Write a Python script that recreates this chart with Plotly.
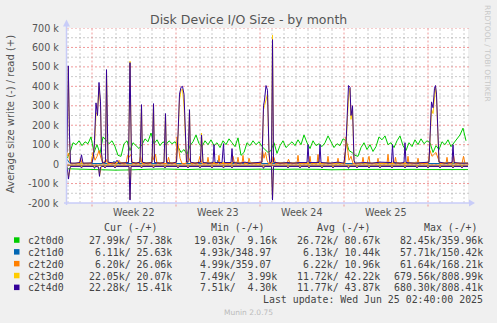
import plotly.graph_objects as go

# ---------------- data ----------------
# time axis: hours since the start of the graph window (2 h per pixel in the original)
T_END = 802
week_starts = [50, 218, 386, 554, 722]          # Monday boundaries (hours)
week_labels = ["Week 22", "Week 23", "Week 24", "Week 25"]

series_names = ["c2t0d0", "c2t1d0", "c2t2d0", "c2t3d0", "c2t4d0"]
series_colors = ["#00CC00", "#0066B3", "#FF8000", "#FFCC00", "#330099"]

# c2t0d0 read (k), sampled every 6 h
t0d0_read = [30, 60, 110, 100, 120, 95, 115, 105, 140, 60,
             100, 55, 140, 125, 105, 120, 90, 45, 40, 105,
             120, 70, 110, 95, 80, 100, 130, 115, 160, 105,
             125, 95, 115, 100, 120, 105, 115, 90, 60, 75,
             50, 95, 115, 150, 105, 90, 120, 100, 125, 95,
             110, 85, 120, 100, 130, 110, 90, 135, 45, 60,
             110, 95, 120, 100, 115, 90, 75, 60, 70, 110,
             55, 95, 120, 85, 100, 115, 95, 125, 100, 150,
             110, 80, 120, 95, 105, 90, 110, 145, 115, 85,
             105, 95, 130, 120, 70, 60, 45, 40, 85, 110,
             75, 100, 65, 90, 140, 125, 145, 100, 110, 85,
             120, 145, 95, 70, 110, 90, 125, 100, 130, 105,
             120, 110, 60, 95, 75, 115, 100, 125, 90, 110,
             130, 150, 185, 120]
# c2t0d0 write (k), sampled every 24 h
t0d0_write = [-24, -26, -27, -28, -31, -30, -27, -26, -25, -27, -28, -26,
              -27, -25, -29, -27, -26, -28, -27, -26, -25, -27, -29, -28,
              -27, -26, -27, -28, -26, -27, -28, -27, -26, -28, -28]

# (hour, k) samples
t1d0_read = [(0, 25), (3, 10), (6, 3), (92, 3), (94, 15), (96, 3), (300, 3), (302, 20),
             (304, 3), (500, 3), (502, 18), (504, 3), (802, 3)]
t1d0_write = [(0, -6), (802, -6)]

t2d0_read = [(0, 40), (3, 55), (6, 10), (10, 3), (24, 3), (27, 30), (30, 3), (48, 3), (52, 60),
             (56, 20), (60, 40), (64, 70), (68, 30), (72, 3), (78, 25), (81, 3), (100, 3), (104, 20),
             (108, 3), (118, 3), (121, 45), (124, 35), (128, 50), (131, 3), (144, 3), (147, 40),
             (150, 3), (168, 3), (171, 45), (174, 20), (177, 50), (180, 3), (200, 3), (203, 35),
             (206, 3), (218, 3), (220, 140), (223, 80), (226, 30), (230, 3), (238, 3), (241, 50),
             (244, 30), (248, 3), (262, 3), (266, 40), (270, 3), (280, 3), (282, 35), (284, 3),
             (302, 3), (304, 45), (306, 3), (320, 3), (330, 3), (332, 40), (335, 3), (340, 3),
             (342, 35), (344, 3), (350, 3), (352, 45), (354, 3), (362, 3), (364, 30), (367, 3),
             (388, 3), (391, 70), (394, 30), (397, 60), (400, 20), (403, 3), (410, 3), (412, 40),
             (414, 35), (417, 3), (440, 3), (443, 25), (446, 3), (460, 3), (462, 45), (464, 3),
             (484, 3), (486, 40), (488, 3), (500, 3), (502, 50), (504, 3), (520, 3), (522, 40),
             (524, 3), (540, 3), (542, 30), (544, 3), (556, 3), (558, 140), (561, 60), (564, 20),
             (568, 40), (572, 3), (590, 3), (592, 35), (594, 3), (600, 3), (604, 40), (606, 3),
             (620, 3), (622, 30), (624, 3), (640, 3), (642, 50), (644, 3), (655, 3), (657, 35),
             (659, 3), (680, 3), (682, 40), (684, 3), (700, 3), (702, 30), (704, 3), (722, 3),
             (726, 70), (730, 40), (734, 50), (738, 60), (742, 30), (746, 3), (758, 3), (760, 35),
             (762, 3), (770, 3), (773, 45), (776, 3), (790, 3), (793, 40), (796, 3), (802, 5)]
t2d0_write = [(0, -5), (802, -5)]

t3d0_read = [(0, 50), (2.6, 500), (5, 120), (7, 4), (50, 5), (55, 100), (58, 255), (61, 270),
             (64, 400), (67, 300), (69, 50), (71, 4), (77, 8), (79, 480), (82, 8), (123, 8),
             (126, 529), (129, 8), (146, 8), (149, 300), (151, 8), (170, 8), (173, 305), (175, 8),
             (194, 8), (197, 255), (199, 8), (219, 8), (222, 140), (225, 330), (228, 380),
             (231, 385), (234, 300), (236, 180), (239, 8), (242, 8), (245, 275), (247, 8),
             (267, 8), (269, 160), (272, 8), (390, 8), (393, 280), (395, 300), (398, 340),
             (401, 360), (404, 50), (406, 5), (409, 8), (411, 663), (413, 8), (554, 5), (558, 90),
             (561, 300), (563, 340), (566, 390), (568, 230), (571, 280), (574, 15), (576, 5),
             (724, 8), (727, 180), (729, 280), (732, 260), (735, 370), (737, 395), (739, 340),
             (742, 140), (744, 8), (802, 5)]
t3d0_write = [(0, -12), (3, -70), (7, -12), (63, -12), (65, -58), (69, -12), (124, -12),
              (126, -180), (128, -12), (409, -12), (411, -180), (413, -12), (802, -12)]

t4d0_read = [(0, 60), (2.6, 505), (5, 150), (7, 5), (16, 5), (26, 8), (29, 48), (32, 5), (50, 6),
             (53, 40), (55, 120), (58, 315), (61, 250), (64, 420), (67, 320), (69, 60), (71, 5),
             (77, 10), (79, 486), (82, 10), (96, 5), (100, 20), (104, 5), (123, 8), (126, 522),
             (129, 10), (138, 5), (146, 10), (149, 306), (151, 10), (158, 5), (170, 8), (173, 311),
             (175, 8), (186, 5), (194, 8), (197, 260), (199, 8), (210, 5), (219, 10), (222, 150),
             (225, 360), (228, 395), (231, 400), (234, 360), (236, 200), (239, 10), (242, 10),
             (245, 280), (247, 10), (256, 5), (267, 10), (269, 150), (272, 8), (286, 5), (292, 8),
             (294, 100), (296, 8), (310, 8), (313, 105), (315, 8), (328, 8), (330, 80), (332, 8),
             (346, 5), (356, 10), (366, 5), (380, 8), (390, 10), (393, 300), (395, 330), (398, 404),
             (401, 380), (404, 60), (406, 5), (409, 10), (411, 640), (413, 10), (426, 5), (442, 8),
             (452, 5), (466, 8), (480, 8), (482, 100), (484, 8), (504, 8), (506, 100), (508, 8),
             (526, 5), (542, 10), (554, 5), (558, 100), (561, 330), (563, 404), (566, 395),
             (568, 250), (571, 300), (574, 20), (576, 5), (596, 8), (610, 5), (626, 10), (649, 8),
             (651, 100), (653, 8), (666, 5), (674, 8), (676, 110), (678, 8), (696, 5), (712, 8),
             (724, 10), (727, 200), (729, 320), (732, 290), (735, 390), (737, 404), (739, 360),
             (742, 150), (744, 10), (756, 5), (770, 8), (772, 100), (774, 8), (786, 5), (802, 5)]
t4d0_write = [(0, -12), (1, -40), (3, -77), (5, -30), (7, -12), (27, -12), (29, -20), (31, -12),
              (53, -12), (55, -22), (57, -12), (63, -15), (65, -63), (67, -15), (69, -12),
              (74, -12), (76, -20), (78, -12), (94, -12), (96, -20), (98, -12), (124, -12),
              (126, -185), (128, -12), (147, -12), (149, -20), (151, -12), (171, -12), (173, -20),
              (175, -12), (194, -12), (196, -20), (198, -12), (220, -12), (222, -20), (224, -12),
              (240, -12), (242, -20), (244, -12), (264, -12), (266, -20), (268, -12), (288, -12),
              (290, -20), (292, -12), (311, -12), (313, -20), (315, -12), (328, -12), (330, -20),
              (332, -12), (391, -12), (393, -22), (395, -12), (409, -12), (411, -185), (413, -12),
              (440, -12), (442, -20), (444, -12), (464, -12), (466, -20), (468, -12), (482, -12),
              (484, -20), (486, -12), (508, -12), (510, -20), (512, -12), (530, -12), (532, -20),
              (534, -12), (561, -12), (563, -22), (565, -12), (578, -12), (580, -20), (582, -12),
              (602, -12), (604, -20), (606, -12), (624, -12), (626, -20), (628, -12), (648, -12),
              (650, -20), (652, -12), (674, -12), (676, -20), (678, -12), (698, -12), (700, -20),
              (702, -12), (720, -12), (722, -20), (724, -12), (744, -12), (746, -20), (748, -12),
              (770, -12), (772, -20), (774, -12), (788, -12), (790, -20), (792, -12), (802, -12)]

y_ticks = [-200, -100, 0, 100, 200, 300, 400, 500, 600, 700]   # in k
y_tick_text = ["-200 k", "-100 k", "0", "100 k", "200 k", "300 k", "400 k", "500 k", "600 k", "700 k"]

legend_cur = ["27.99k/ 57.38k", " 6.11k/ 25.63k", " 6.20k/ 26.06k", "22.05k/ 20.07k", "22.28k/ 15.41k"]
legend_min = ["19.03k/  9.16k", " 4.93k/348.97 ", " 4.99k/359.07 ", " 7.49k/  3.99k", " 7.51k/  4.30k"]
legend_avg = ["26.72k/ 80.67k", " 6.13k/ 10.44k", " 6.22k/ 10.96k", "11.72k/ 42.22k", "11.77k/ 43.87k"]
legend_max = ["82.45k/359.96k", "57.71k/150.42k", "61.64k/168.21k", "679.56k/808.99k", "680.30k/808.41k"]

# ---------------- layout helpers ----------------
W, H = 497, 323
L, R, T, B = 67, 29, 28, 120
PW, PH = W - L - R, H - T - B


def px(x):
    return (x - L) / PW


def py(y):
    return (H - B - y) / PH


K = 1000.0

fig = go.Figure()


def add_line(ts, vs, color):
    fig.add_trace(go.Scatter(x=ts, y=[v * K for v in vs], mode="lines",
                             line=dict(color=color, width=1), hoverinfo="skip",
                             showlegend=False))


def add_pairs(pairs, color):
    add_line([p[0] for p in pairs], [p[1] for p in pairs], color)


add_line([24 * i for i in range(len(t0d0_write))], t0d0_write, series_colors[0])
add_line([6 * i for i in range(len(t0d0_read))], t0d0_read, series_colors[0])
add_pairs(t1d0_write, series_colors[1])
add_pairs(t1d0_read, series_colors[1])
add_pairs(t2d0_write, series_colors[2])
add_pairs(t2d0_read, series_colors[2])
add_pairs(t3d0_write, series_colors[3])
add_pairs(t3d0_read, series_colors[3])
add_pairs(t4d0_write, series_colors[4])
add_pairs(t4d0_read, series_colors[4])

shapes = []
MAJ = "rgba(235,120,120,0.75)"
MIN = "rgba(170,170,170,0.6)"
DASH = "2px,2px"
# horizontal grid
for v in range(-150, 701, 50):
    major = v % 100 == 0
    shapes.append(dict(type="line", xref="paper", yref="y", x0=0, x1=1.005, y0=v * K, y1=v * K,
                       line=dict(color=MAJ if major else MIN, width=1, dash=DASH), layer="below"))
# vertical grid: daily minor, weekly major
for h in range(week_starts[0] % 24, T_END, 24):
    if h in week_starts:
        continue
    shapes.append(dict(type="line", xref="x", yref="paper", x0=h, x1=h, y0=0, y1=1,
                       line=dict(color=MIN, width=1, dash=DASH), layer="below"))
for h in week_starts:
    shapes.append(dict(type="line", xref="x", yref="paper", x0=h, x1=h, y0=-0.02, y1=1,
                       line=dict(color=MAJ, width=1, dash=DASH), layer="below"))

AX = "#C8CCF8"
shapes.append(dict(type="line", xref="paper", yref="paper", x0=px(66.5), x1=px(66.5),
                   y0=py(205), y1=py(24), line=dict(color=AX, width=1.5)))
shapes.append(dict(type="path", xref="paper", yref="paper",
                   path=f"M {px(66.5)},{py(19.5)} L {px(63)},{py(26.5)} L {px(70)},{py(26.5)} Z",
                   fillcolor=AX, line=dict(width=0)))
shapes.append(dict(type="line", xref="paper", yref="paper", x0=px(64), x1=px(470),
                   y0=py(203), y1=py(203), line=dict(color=AX, width=1.5)))
shapes.append(dict(type="path", xref="paper", yref="paper",
                   path=f"M {px(475)},{py(203)} L {px(469)},{py(199.5)} L {px(469)},{py(206.5)} Z",
                   fillcolor=AX, line=dict(width=0)))

# legend colour squares
row_y = [240.5, 252.3, 264.1, 276.0, 287.8]
for c, yy in zip(series_colors, row_y):
    shapes.append(dict(type="rect", xref="paper", yref="paper", x0=px(14), x1=px(19.5),
                       y0=py(yy - 3.2), y1=py(yy + 2.3), fillcolor=c, line=dict(width=0)))

ann = []
SANS = "DejaVu Sans"
MONO = "DejaVu Sans Mono"
TXT = "#444444"


def text(x, y, s, size, family=SANS, color=TXT, xanchor="left", angle=0):
    ann.append(dict(xref="paper", yref="paper", x=px(x), y=py(y), text=s.replace(" ", "\u00a0"),
                    showarrow=False, xanchor=xanchor, yanchor="middle", textangle=angle,
                    borderpad=0, font=dict(family=family, size=size, color=color)))


text(248.5, 19.5, "Disk Device I/O Size - by month", 12.5, xanchor="center", color="#555555")
text(10, 114, "Average size write (-) / read (+)", 10, xanchor="center", angle=-90, color="#555555")
text(488, 53, "RRDTOOL / TOBI OETIKER", 7.5, xanchor="center", angle=90, color="#C8C8C8")

for v, s in zip(y_ticks, y_tick_text):
    text(60, py_val := (H - B) - (v + 200) / 900 * PH, s, 9.6, xanchor="right", color="#555555")

for i, lab in enumerate(week_labels):
    mid = (week_starts[i] + week_starts[i + 1]) / 2
    ann.append(dict(xref="x", yref="paper", x=mid, y=py(212.7), text=lab.replace(" ", "\u00a0"),
                    showarrow=False, xanchor="center", yanchor="middle", borderpad=0,
                    font=dict(family=SANS, size=9.6, color="#555555")))

CW = 5.96
MS = 9.9
text(103.3, 227.5, "Cur (-/+)", MS, MONO)
text(210, 227.5, "Min (-/+)", MS, MONO)
text(316, 227.5, "Avg (-/+)", MS, MONO)
text(422.7, 227.5, "Max (-/+)", MS, MONO)
cols = [(legend_cur, 171.7), (legend_min, 276), (legend_avg, 379), (legend_max, 482.3)]
for r, name in enumerate(series_names):
    yy = row_y[r]
    text(26.7, yy, name, MS, MONO)
    for vals, right in cols:
        s = vals[r]
        text(right - len(s) * CW, yy, s, MS, MONO)
last = "Last update: Wed Jun 25 02:40:00 2025"
text(482.3 - len(last) * CW, 299.5, last, MS, MONO)
text(248, 312.3, "Munin 2.0.75", 7.5, xanchor="center", color="#BBBBBB")

fig.update_layout(
    width=W, height=H, margin=dict(l=L, r=R, t=T, b=B, pad=0),
    paper_bgcolor="#F0F0F0", plot_bgcolor="#FFFFFF",
    xaxis=dict(range=[0, T_END], showgrid=False, zeroline=False, showticklabels=False,
               showline=False, ticks=""),
    yaxis=dict(range=[-200 * K, 700 * K], showgrid=False, zeroline=False, showticklabels=False,
               showline=False, ticks=""),
    shapes=shapes, annotations=ann, showlegend=False,
)

fig.write_html("out.html", config={"displayModeBar": False})
